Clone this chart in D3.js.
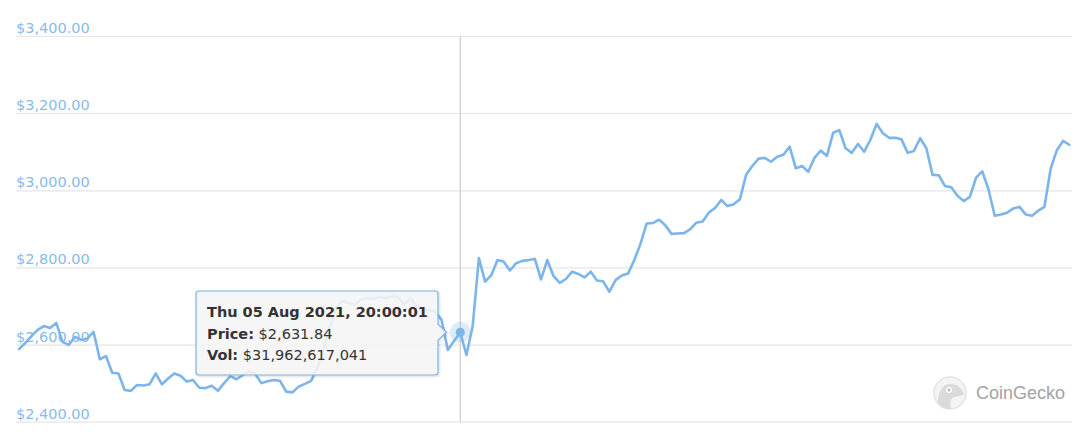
<!DOCTYPE html>
<html>
<head>
<meta charset="utf-8">
<script src="https://cdn.jsdelivr.net/npm/d3@7"></script>
<style>
    html, body { margin: 0; padding: 0; background: #fff; }
    #chart-container { width: 1080px; height: 436px; }
</style>
</head>
<body>
<div id="chart-container"></div>
<script>
        // ETH price, hourly points (USD)
        const prices = [
            2588, 2604, 2622, 2638, 2648, 2643, 2656, 2607, 2599, 2620,
            2612, 2616, 2633, 2562, 2570, 2527, 2525, 2482, 2480, 2495,
            2494, 2497, 2525, 2497, 2512, 2525, 2519, 2504, 2508, 2488,
            2487, 2493, 2480, 2500, 2518, 2510, 2521, 2530, 2524, 2500,
            2505, 2508, 2506, 2478, 2476, 2491, 2498, 2506, 2539, 2586,
            2643, 2695, 2713, 2708, 2703, 2716, 2721, 2718, 2723, 2721,
            2726, 2723, 2705, 2721, 2700, 2692, 2690, 2684, 2664, 2586,
            2609, 2631.84, 2573, 2648, 2824, 2763, 2780, 2819, 2815, 2792,
            2811, 2817, 2819, 2822, 2769, 2819, 2778, 2760, 2770, 2789,
            2783, 2774, 2789, 2766, 2764, 2737, 2767, 2779, 2784, 2819,
            2861, 2914, 2915, 2924, 2909, 2887, 2888, 2889, 2899, 2916,
            2919, 2942, 2954, 2975, 2959, 2964, 2977, 3040, 3063, 3082,
            3084, 3074, 3087, 3092, 3113, 3057, 3063, 3048, 3084, 3103,
            3089, 3149, 3156, 3109, 3097, 3120, 3100, 3131, 3172, 3148,
            3136, 3136, 3132, 3097, 3102, 3135, 3109, 3040, 3039, 3011,
            3008, 2986, 2972, 2983, 3033, 3049, 3002, 2934, 2937, 2942,
            2953, 2957, 2937, 2934, 2947, 2957, 3056, 3104, 3128, 3118
        ];
        const startTime = new Date(2021, 7, 2, 21, 0, 1);   // Mon 02 Aug 2021 21:00:01
        const yTicks = [2400, 2600, 2800, 3000, 3200, 3400];

        // hovered point and its tooltip
        const hoverIndex = 71;
        const hoverVolume = "$31,962,617,041";

        const width = 1080;
        const height = 436;
        const lineColor = "#7cb5ec";
        const fontFamily = "'DejaVu Sans', Verdana, sans-serif";

        const times = prices.map((p, i) => new Date(startTime.getTime() + i * 3600 * 1000));
        const data = prices.map((p, i) => ({ time: times[i], price: p }));

        const svg = d3.select("#chart-container").append("svg")
            .attr("width", width)
            .attr("height", height)
            .style("font-family", fontFamily);

        const x = d3.scaleTime()
            .domain(d3.extent(times))
            .range([19, 1069.3]);

        const y = d3.scaleLinear()
            .domain([2400, 3400])
            .range([421.7, 36]);

        const priceFormat = v => "$" + d3.format(",.2f")(v);

        // grid lines + labels
        const yAxis = d3.axisRight(y)
            .tickValues(yTicks)
            .tickSize(1056)
            .tickFormat(priceFormat);

        const axisG = svg.append("g")
            .attr("transform", "translate(16,0)")
            .call(yAxis)
            .attr("font-family", null)
            .attr("font-size", null);

        axisG.select(".domain").remove();
        axisG.selectAll(".tick line")
            .attr("stroke", "#e6e6e6")
            .attr("stroke-width", 1.2);
        axisG.selectAll(".tick text")
            .attr("x", 0)
            .attr("dy", -3.5)
            .attr("text-anchor", "start")
            .attr("fill", "#86bced")
            .style("font-family", fontFamily)
            .style("font-size", "14.5px");

        // crosshair
        const hx = x(times[hoverIndex]);
        const hy = y(prices[hoverIndex]);

        svg.append("line")
            .attr("x1", hx).attr("x2", hx)
            .attr("y1", y(3400)).attr("y2", y(2400))
            .attr("stroke", "#cccccc")
            .attr("stroke-width", 1.2);

        // price line
        const line = d3.line()
            .x(d => x(d.time))
            .y(d => y(d.price));

        svg.append("path")
            .datum(data)
            .attr("d", line)
            .attr("fill", "none")
            .attr("stroke", lineColor)
            .attr("stroke-width", 2.6)
            .attr("stroke-linejoin", "round")
            .attr("stroke-linecap", "round");

        // hover marker with halo
        svg.append("circle")
            .attr("cx", hx).attr("cy", hy)
            .attr("r", 10.5)
            .attr("fill", lineColor)
            .attr("fill-opacity", 0.25);

        svg.append("circle")
            .attr("cx", hx).attr("cy", hy)
            .attr("r", 4.5)
            .attr("fill", lineColor);

        // tooltip callout
        function calloutPath(bx, by, bw, bh, r, tipX, tipY, half) {
            return `M${bx + r},${by} H${bx + bw - r} Q${bx + bw},${by} ${bx + bw},${by + r}` +
                ` V${tipY - half} L${tipX},${tipY} L${bx + bw},${tipY + half}` +
                ` V${by + bh - r} Q${bx + bw},${by + bh} ${bx + bw - r},${by + bh}` +
                ` H${bx + r} Q${bx},${by + bh} ${bx},${by + bh - r}` +
                ` V${by + r} Q${bx},${by} ${bx + r},${by} Z`;
        }

        const tip = { x: 196, y: 291, w: 242, h: 84 };
        const tipPath = calloutPath(tip.x, tip.y, tip.w, tip.h, 3, tip.x + tip.w + 8.5, hy, 8);

        const tipG = svg.append("g");
        tipG.append("path")
            .attr("d", tipPath)
            .attr("transform", "translate(1,1)")
            .attr("fill", "none")
            .attr("stroke", "rgba(0,0,0,0.08)")
            .attr("stroke-width", 3);
        tipG.append("path")
            .attr("d", tipPath)
            .attr("fill", "rgba(245,245,245,0.88)")
            .attr("stroke", lineColor)
            .attr("stroke-width", 1.2);

        const tipLines = [
            { bold: d3.timeFormat("%a %d %b %Y, %H:%M:%S")(times[hoverIndex]), rest: "" },
            { bold: "Price:", rest: " " + priceFormat(prices[hoverIndex]) },
            { bold: "Vol:", rest: " " + hoverVolume }
        ];

        const tipText = tipG.append("text")
            .attr("fill", "#333333")
            .style("font-size", "14.5px");

        tipLines.forEach((l, i) => {
            tipText.append("tspan")
                .attr("x", 207)
                .attr("y", 317 + i * 21.7)
                .attr("font-weight", "bold")
                .text(l.bold);
            if (l.rest) {
                tipText.append("tspan").text(l.rest);
            }
        });

        // CoinGecko watermark
        const logo = svg.append("g").attr("transform", "translate(950,393)");
        logo.append("clipPath").attr("id", "logo-clip")
            .append("circle").attr("r", 16);
        logo.append("circle")
            .attr("r", 16)
            .attr("fill", "#f4f4f4")
            .attr("stroke", "#e3e3e3")
            .attr("stroke-width", 1.5);
        logo.append("path")
            .attr("clip-path", "url(#logo-clip)")
            .attr("d", "M-12,16 C-13,2 -9,-9 0,-9 C7,-9 12,-5 14,1 C10,4 5,3 2,5 C0,9 0,13 1,16 Z")
            .attr("fill", "#dadada");
        logo.append("circle").attr("cx", -1).attr("cy", -3).attr("r", 3).attr("fill", "#ffffff");
        logo.append("circle").attr("cx", -1).attr("cy", -3).attr("r", 1.4).attr("fill", "#b5b5b5");

        svg.append("text")
            .attr("x", 976)
            .attr("y", 398.5)
            .attr("fill", "#a3a3a3")
            .style("font-family", "'Liberation Sans', Arial, sans-serif")
            .style("font-size", "18px")
            .text("CoinGecko");
</script>
</body>
</html>
